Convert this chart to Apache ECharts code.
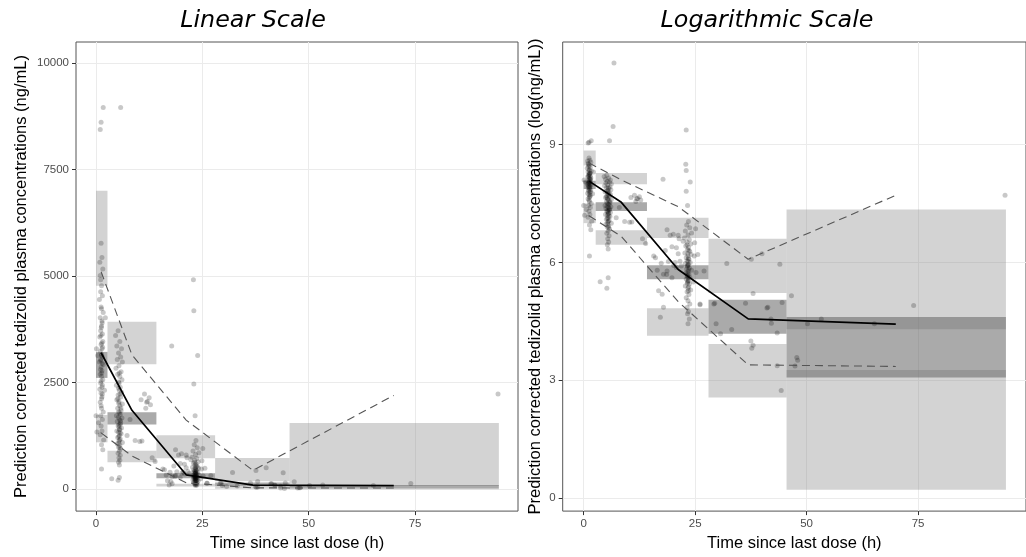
<!DOCTYPE html>
<html><head><meta charset="utf-8">
<script src="https://cdn.jsdelivr.net/npm/echarts@6/dist/echarts.min.js"></script>
<style>html,body{margin:0;padding:0;background:#fff}#c{width:1026px;height:557px}</style>
</head><body><div id="c"></div>
<script>
// ---- tick labels ----
const xTicks = [0, 25, 50, 75];
const yTicksLinear = [0, 2500, 5000, 7500, 10000];
const yTicksLog = [0, 3, 6, 9];
// ---- time bins ----
const binStart = [0, 2.7, 14.2, 28, 45.5];
const binEnd = [2.7, 14.2, 28, 45.5, 94.7];
// ---- simulated CI boxes, linear panel (ng/mL) ----
const linP95Lo = [4770, 2930, 725, 185, 73];
const linP95Hi = [7000, 3930, 1265, 730, 1550];
const linP50Lo = [2610, 1515, 255, 65, 22];
const linP50Hi = [3220, 1805, 375, 156, 100];
const linP05Lo = [1100, 630, 62, 13, 1];
const linP05Hi = [1740, 900, 125, 50, 26];
// ---- simulated CI boxes, log panel (log ng/mL) ----
const logP95Lo = [8.47, 7.99, 6.62, 5.22, 4.30];
const logP95Hi = [8.85, 8.28, 7.14, 6.60, 7.35];
const logP50Lo = [7.87, 7.31, 5.57, 4.18, 3.07];
const logP50Hi = [8.08, 7.53, 5.93, 5.05, 4.61];
const logP05Lo = [7.00, 6.45, 4.13, 2.56, 0.21];
const logP05Hi = [7.50, 6.82, 4.83, 3.92, 3.26];
// ---- observed percentile lines ----
const lineTime = [1.2, 8.45, 21.2, 36.9, 70.0];
const linObsMedian = [3200, 1850, 337, 95, 84];
const linObs95 = [5100, 3150, 1620, 440, 2200];
const linObs05 = [1320, 780, 150, 30, 28];
const logObsMedian = [8.07, 7.53, 5.82, 4.56, 4.43];
const logObs95 = [8.53, 8.10, 7.42, 6.08, 7.71];
const logObs05 = [7.19, 6.66, 5.00, 3.39, 3.35];
// ---- observations: [time (h), log concentration] ----
const observations = [
[1.2,8.66],[1.4,8.6],[0.9,8.58],[1.6,8.55],[1.1,8.5],[1.3,8.47],[1.5,8.42],[0.8,8.4],[1.2,8.36],[1.7,8.33],[1.0,8.3],[1.4,8.28],[1.3,8.25],[1.1,8.22],[1.5,8.2],[0.9,8.18],[1.6,8.15],[1.2,8.13],[1.4,8.1],[1.0,8.08],[1.3,8.06],[1.5,8.04],[1.1,8.02],[0.8,8.0],[1.7,7.98],[1.2,7.96],[1.4,7.93],[1.0,7.9],[1.3,7.88],[1.6,7.85],[1.1,7.82],[1.5,7.8],[0.9,7.76],[1.2,7.72],[1.4,7.68],[1.0,7.62],[1.3,7.55],[1.7,7.5],[1.1,7.45],[1.5,7.4],[0.6,7.35],[1.2,7.3],[1.4,7.22],[1.0,7.15],[1.8,7.05],[1.3,6.95],[1.6,6.83],[1.3,6.16],[0.1,8.1],[0.4,8.05],[0.0,7.45],[0.2,7.2],[2.0,7.75],[2.2,8.3],[1.2,9.06],[1.7,9.1],[1.0,9.04],
[1.15,8.19],[1.35,8.14],[1.25,8.05],[1.45,7.99],[1.05,7.94],[1.55,8.11],[1.25,8.24],[1.35,7.91],[1.15,8.01],[1.45,8.27],[1.3,8.35],[1.2,7.84],[1.4,7.78],[1.1,8.44],[1.5,7.71],[1.3,7.66],[1.2,7.58],[1.0,8.52],
[5.2,8.22],[4.6,8.19],[5.6,8.15],[4.9,8.12],[6.0,8.1],[5.3,8.07],[5.8,8.04],[5.0,8.02],[6.2,8.0],[5.4,7.97],[4.7,7.95],[5.9,7.92],[5.1,7.9],[5.6,7.88],[6.1,7.85],[5.3,7.83],[4.8,7.8],[5.7,7.78],[5.5,7.75],[6.0,7.73],[5.2,7.7],[5.8,7.68],[4.9,7.65],[5.4,7.63],[6.2,7.6],[5.6,7.58],[5.1,7.55],[5.9,7.52],[5.3,7.5],[5.7,7.47],[4.8,7.45],[6.1,7.42],[5.5,7.4],[5.0,7.37],[5.8,7.35],[5.4,7.32],[5.2,7.3],[6.0,7.27],[5.6,7.25],[4.9,7.22],[5.3,7.2],[5.9,7.17],[5.5,7.14],[5.1,7.1],[5.7,7.07],[5.4,7.03],[6.2,7.0],[5.0,6.97],[5.6,6.93],[5.3,6.9],[5.8,6.85],[5.5,6.8],[5.2,6.74],[5.7,6.68],[5.4,6.6],[5.6,6.52],[5.3,6.45],[5.5,6.34],[3.7,5.51],[5.5,5.61],[5.2,5.34],[6.8,11.08],[6.6,9.46],[5.8,9.1],
[5.45,7.82],[5.65,7.71],[5.35,7.61],[5.55,7.49],[5.25,7.43],[5.75,7.38],[5.45,7.29],[5.65,7.19],[5.35,7.12],[5.55,7.05],[5.85,7.55],[5.15,7.66],[5.5,7.91],[5.3,7.77],[5.7,7.33],[5.5,7.24],[5.4,6.98],[5.6,6.88],
[7.3,7.14],[9.2,7.04],[10.3,7.02],[10.6,7.65],[11.4,7.71],[12.1,7.63],[12.5,7.67],[11.7,7.55],[12.8,7.59],[11.9,7.62],[13.2,6.6],[13.9,6.48],[8.0,7.4],[10.8,7.03],
[17.8,8.12],[18.7,6.83],[19.4,6.69],[20.1,6.72],[21.2,6.69],[21.4,6.6],[15.7,6.16],[16.1,6.12],[16.5,5.8],[17.9,5.7],[18.7,5.78],[16.8,5.28],[17.6,5.19],[17.9,4.86],[17.2,4.6],[19.8,6.4],[20.5,6.0],[18.3,6.3],[20.8,6.37],[21.2,6.22],[21.6,6.03],[20.8,5.87],[21.9,5.91],[22.3,6.54],[19.0,6.02],[20.2,5.92],[18.6,5.69],[19.8,5.61],[17.4,5.98],
[23.0,9.37],[22.9,8.5],[23.0,8.34],[23.9,8.05],[23.0,7.81],[23.3,7.45],
[23.5,7.04],[23.1,6.95],[23.8,6.88],[22.8,6.8],[24.2,6.75],[23.4,6.7],[22.6,6.62],[23.7,6.58],[23.2,6.52],[24.0,6.47],[22.9,6.42],[23.5,6.38],[23.3,6.33],[23.8,6.28],[22.7,6.24],[24.1,6.2],[23.4,6.16],[23.0,6.12],[23.6,6.08],[23.2,6.04],[23.9,6.0],[22.8,5.97],[23.5,5.94],[23.3,5.9],[23.7,5.86],[23.1,5.83],[24.2,5.8],[23.4,5.77],[22.9,5.73],[23.6,5.7],[23.2,5.66],[23.8,5.62],[23.0,5.58],[23.5,5.54],[23.3,5.5],[23.7,5.45],[22.8,5.4],[23.4,5.35],[24.0,5.3],[23.2,5.25],[23.6,5.18],[23.0,5.1],[23.4,5.02],[23.8,4.94],[23.2,4.85],[23.5,4.75],[23.3,4.69],[23.7,4.56],[23.4,4.44],
[23.35,6.22],[23.45,6.02],[23.25,5.92],[23.55,5.82],[23.35,5.72],[23.45,5.6],[23.25,5.47],[23.55,5.38],[23.4,5.95],[23.5,6.1],[23.3,5.65],[23.4,5.52],[23.6,6.3],[23.2,6.45],[23.5,5.28],
[25.1,6.86],[24.8,6.16],[25.6,6.2],[26.1,4.94],[25.2,5.74],[27.0,5.78],[24.6,5.5],[24.9,6.5],
[26.1,4.92],[29.2,4.94],[29.4,4.96],[29.7,4.44],[30.7,4.18],[32.1,5.97],[33.2,4.29],[36.3,4.96],[37.6,6.08],[37.5,4.0],[37.7,3.81],[38.0,3.89],[38.0,5.21],[40.0,6.22],[41.1,4.84],[41.3,4.86],[42.0,4.56],[42.1,4.45],[43.4,4.2],[43.4,3.37],[44.0,5.95],[44.3,2.74],[44.5,4.98],[46.6,5.15],[47.4,3.36],[47.8,3.58],[48.0,3.51],[50.2,4.44],[53.3,4.56],[65.2,4.44],[74.0,4.9],[94.5,7.71]
];

const boxes = (lo, hi) => binStart.map((s, i) => [s, binEnd[i], lo[i], hi[i]]);
const pairs = (ys) => lineTime.map((t, i) => [t, ys[i]]);
const LIGHT = 'rgba(128,128,128,0.345)';
const DARK = 'rgba(100,100,100,0.55)';
function boxRender(fill) {
  return function (params, api) {
    const a = api.coord([api.value(0), api.value(3)]);
    const b = api.coord([api.value(1), api.value(2)]);
    return { type: 'rect', shape: { x: a[0], y: a[1], width: b[0] - a[0], height: b[1] - a[1] }, style: { fill: fill } };
  };
}
function boxSeries(g, lo, hi, fill) {
  return { type: 'custom', xAxisIndex: g, yAxisIndex: g, silent: true, renderItem: boxRender(fill),
    encode: { x: [0, 1], y: [2, 3] }, data: boxes(lo, hi), z: 1 };
}
function lineSeries(g, ys, solid) {
  return { type: 'line', xAxisIndex: g, yAxisIndex: g, silent: true, showSymbol: false, symbol: 'none', z: 4,
    data: pairs(ys),
    lineStyle: solid ? { color: '#000', width: 1.7 } : { color: '#555', width: 1.1, type: [8, 5] } };
}
function scatterSeries(g, data) {
  return { type: 'scatter', xAxisIndex: g, yAxisIndex: g, silent: true, symbolSize: 5, z: 3, clip: true,
    itemStyle: { color: 'rgba(0,0,0,0.27)' }, data: data };
}
const fmt = v => String(v);
const tickLab = { color: '#4d4d4d', fontSize: 11.5, fontFamily: 'Liberation Sans' };
const nameStyle = { color: '#000', fontSize: 16.5, fontFamily: 'Liberation Sans' };
function xAx(g) {
  return { gridIndex: g, type: 'value', min: -4.7, max: 99.2,
    axisLine: { show: false, onZero: false },
    axisTick: { show: true, customValues: xTicks, length: 4, lineStyle: { color: '#333' } },
    axisLabel: Object.assign({ customValues: xTicks, margin: 7, formatter: fmt }, tickLab),
    splitLine: { show: true, lineStyle: { color: '#ebebeb', width: 1 } },
    name: 'Time since last dose (h)', nameLocation: 'middle', nameGap: 21, nameTextStyle: nameStyle };
}
function yAx(g, min, max, ticks, name, gap) {
  return { gridIndex: g, type: 'value', min: min, max: max,
    axisLine: { show: false, onZero: false },
    axisTick: { show: true, customValues: ticks, length: 4, lineStyle: { color: '#333' } },
    axisLabel: Object.assign({ customValues: ticks, margin: 7, formatter: fmt }, tickLab),
    splitLine: { show: true, lineStyle: { color: '#ebebeb', width: 1 } },
    name: name, nameLocation: 'middle', nameGap: gap, nameTextStyle: nameStyle };
}

const chart = echarts.init(document.getElementById('c'));
chart.setOption({
  animation: false,
  backgroundColor: '#fff',
  graphic: [
    { type: 'text', x: 253, y: 21, style: { text: 'Linear Scale', align: 'center', verticalAlign: 'middle', font: 'italic 23.8px "DejaVu Sans"', fill: '#000' } },
    { type: 'text', x: 767, y: 21, style: { text: 'Logarithmic Scale', align: 'center', verticalAlign: 'middle', font: 'italic 23.8px "DejaVu Sans"', fill: '#000' } }
  ],
  grid: [
    { left: 76, top: 42, width: 442, height: 471, show: true, borderColor: '#555', borderWidth: 1, backgroundColor: '#fff' },
    { left: 562.7, top: 42, width: 475.3, height: 474, show: true, borderColor: '#555', borderWidth: 1, backgroundColor: '#fff' }
  ],
  xAxis: [xAx(0), xAx(1)],
  yAxis: [
    yAx(0, -514, 10489, yTicksLinear, 'Prediction corrected tedizolid plasma concentrations (ng/mL)', 46),
    yAx(1, -0.335, 11.614, yTicksLog, 'Prediction corrected tedizolid plasma concentrations (log(ng/mL))', 19)
  ],
  series: [
    boxSeries(0, linP95Lo, linP95Hi, LIGHT),
    boxSeries(0, linP05Lo, linP05Hi, LIGHT),
    boxSeries(0, linP50Lo, linP50Hi, DARK),
    scatterSeries(0, observations.map(p => [p[0], Math.exp(p[1])])),
    lineSeries(0, linObs95, false),
    lineSeries(0, linObs05, false),
    lineSeries(0, linObsMedian, true),
    boxSeries(1, logP95Lo, logP95Hi, LIGHT),
    boxSeries(1, logP05Lo, logP05Hi, LIGHT),
    boxSeries(1, logP50Lo, logP50Hi, DARK),
    scatterSeries(1, observations),
    lineSeries(1, logObs95, false),
    lineSeries(1, logObs05, false),
    lineSeries(1, logObsMedian, true)
  ]
});
</script></body></html>
